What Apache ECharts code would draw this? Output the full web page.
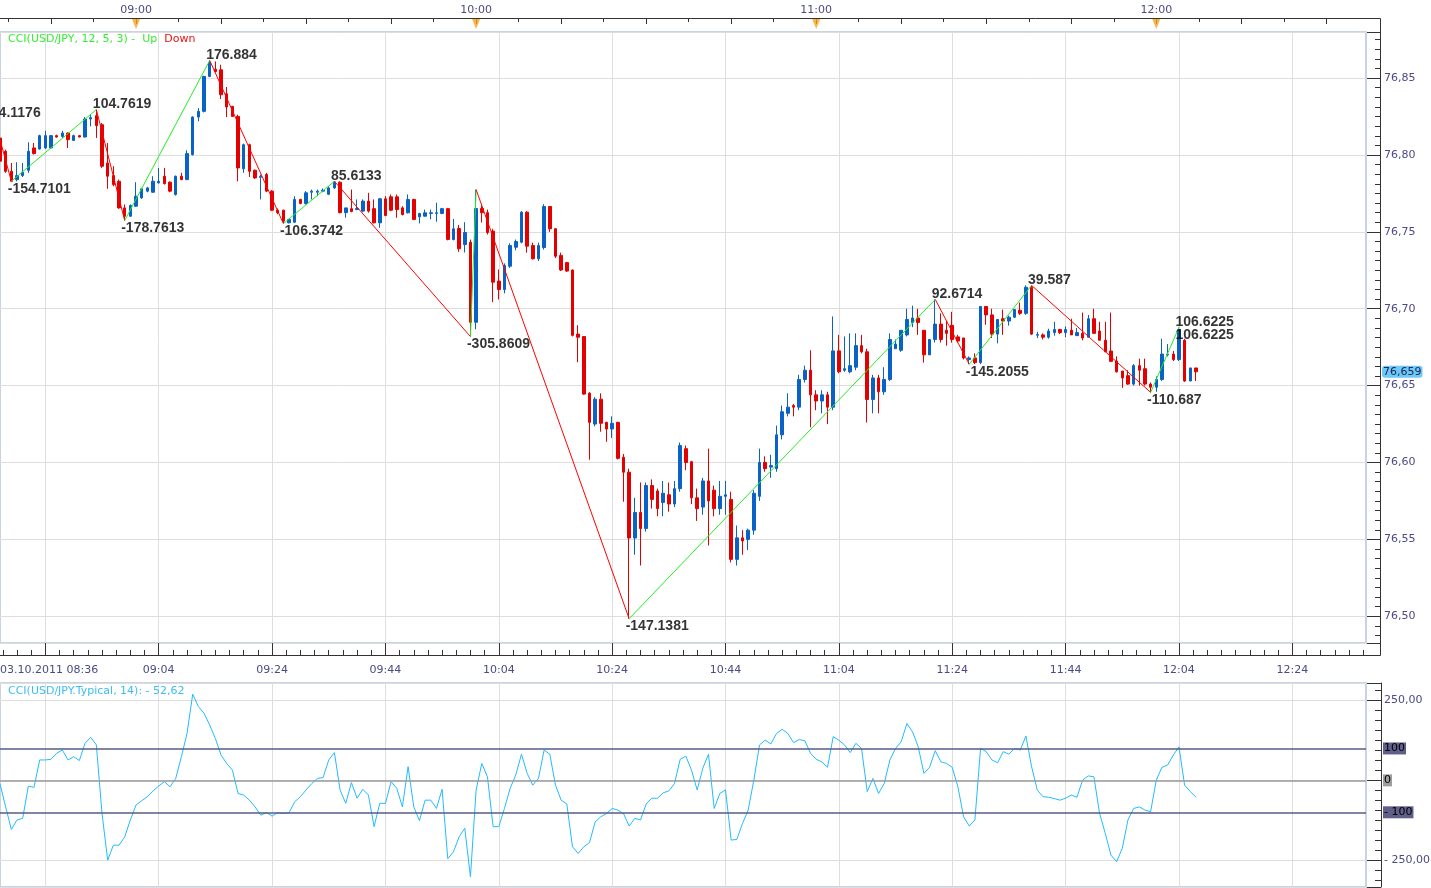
<!DOCTYPE html>
<html>
<head>
<meta charset="utf-8">
<title>USD/JPY CCI</title>
<script src="https://cdn.jsdelivr.net/npm/echarts@6/dist/echarts.min.js"></script>
<style>
    html, body { margin: 0; padding: 0; background: #fff; }
    #chart { width: 1431px; height: 888px; }
</style>
</head>
<body>
<div id="chart"></div>
<script>
// ---- data ----
const dateLabel = "03.10.2011"
const startMinute = 8 * 60 + 36 // 08:36
const minuteCount = 242 // 08:36 .. 12:37
const hourMarks = ["09:00", "10:00", "11:00", "12:00"]

// [open, close, low, high], one candle per minute from 08:36
const ohlc = [
    [76.811, 76.796, 76.795, 76.811], [76.8024, 76.7894, 76.7884, 76.8035], [76.7894, 76.7829, 76.7829, 76.7948],
    [76.784, 76.7866, 76.7829, 76.7953], [76.7866, 76.7888, 76.7857, 76.7948], [76.7901, 76.8024, 76.7884, 76.8083],
    [76.8046, 76.8009, 76.8003, 76.8078], [76.8039, 76.8126, 76.8035, 76.8132], [76.8046, 76.8126, 76.8039, 76.8158],
    [76.8046, 76.8126, 76.8039, 76.813], [76.8126, 76.8117, 76.8113, 76.8132], [76.8121, 76.8143, 76.8111, 76.8158],
    [76.8143, 76.81, 76.8046, 76.8147], [76.8095, 76.8126, 76.8091, 76.8132], [76.8126, 76.8117, 76.8115, 76.813],
    [76.8117, 76.8234, 76.8113, 76.8247], [76.8234, 76.8243, 76.8186, 76.8262], [76.8256, 76.8191, 76.8111, 76.8295],
    [76.8197, 76.7927, 76.7916, 76.8208], [76.7948, 76.7862, 76.778, 76.8078], [76.7866, 76.7808, 76.7797, 76.7927],
    [76.7829, 76.7656, 76.765, 76.784], [76.7656, 76.7602, 76.7574, 76.7678], [76.7602, 76.7672, 76.7598, 76.7678],
    [76.7667, 76.7732, 76.7663, 76.7823], [76.7721, 76.778, 76.7715, 76.7786], [76.7765, 76.7786, 76.7758, 76.7793],
    [76.7758, 76.7829, 76.7754, 76.7862], [76.7819, 76.7829, 76.7814, 76.7916], [76.7862, 76.7814, 76.7808, 76.7916],
    [76.7823, 76.7765, 76.7758, 76.7829], [76.7743, 76.7862, 76.7736, 76.7866], [76.7862, 76.784, 76.7836, 76.7884],
    [76.784, 76.8009, 76.7836, 76.803], [76.8003, 76.8247, 76.7996, 76.8251], [76.8247, 76.8284, 76.8219, 76.8305],
    [76.8284, 76.8511, 76.8277, 76.8515], [76.8511, 76.8602, 76.8506, 76.8615], [76.8558, 76.8543, 76.8537, 76.8608],
    [76.8554, 76.8392, 76.8364, 76.8587], [76.8398, 76.8312, 76.8247, 76.8442], [76.8316, 76.8251, 76.8247, 76.832],
    [76.8251, 76.7916, 76.7829, 76.8262], [76.791, 76.8067, 76.7884, 76.8074], [76.8067, 76.7894, 76.7857, 76.8074],
    [76.7901, 76.7851, 76.7845, 76.7905], [76.7855, 76.7862, 76.7711, 76.7873], [76.7873, 76.7765, 76.7758, 76.7884],
    [76.7765, 76.7641, 76.7635, 76.7771], [76.7641, 76.7625, 76.7615, 76.7652], [76.7641, 76.757, 76.7554, 76.7645],
    [76.7559, 76.7581, 76.7555, 76.7585], [76.7563, 76.7711, 76.7559, 76.7732], [76.7711, 76.7685, 76.768, 76.7715],
    [76.7685, 76.7754, 76.7678, 76.7765], [76.7758, 76.7765, 76.7711, 76.7775], [76.7758, 76.7765, 76.7732, 76.7775],
    [76.7765, 76.7771, 76.7758, 76.7782], [76.7745, 76.7786, 76.7739, 76.7797], [76.7786, 76.7825, 76.778, 76.7829],
    [76.7823, 76.7625, 76.762, 76.7829], [76.7625, 76.7656, 76.7592, 76.7656], [76.7651, 76.7633, 76.7628, 76.7775],
    [76.7645, 76.7652, 76.7641, 76.7711], [76.7635, 76.77, 76.7628, 76.7711], [76.77, 76.7635, 76.7625, 76.7754],
    [76.7651, 76.7559, 76.7555, 76.7711], [76.7559, 76.7715, 76.7527, 76.7721], [76.7715, 76.7606, 76.7602, 76.7732],
    [76.7728, 76.7641, 76.7635, 76.7743], [76.7728, 76.7645, 76.7592, 76.7743], [76.7656, 76.7613, 76.7607, 76.7667],
    [76.7624, 76.7711, 76.762, 76.7743], [76.7711, 76.7581, 76.7576, 76.7715], [76.7598, 76.7619, 76.7555, 76.7624],
    [76.7602, 76.7624, 76.76, 76.7645], [76.762, 76.7624, 76.7581, 76.7645], [76.762, 76.7624, 76.7566, 76.769],
    [76.762, 76.7651, 76.7615, 76.7656], [76.7651, 76.7451, 76.7445, 76.7656], [76.745, 76.752, 76.7445, 76.7584],
    [76.7522, 76.739, 76.737, 76.7545], [76.7418, 76.7496, 76.7366, 76.7563], [76.7433, 76.6912, 76.6819, 76.745],
    [76.6912, 76.7652, 76.6867, 76.7775], [76.7652, 76.7625, 76.7561, 76.7671], [76.7625, 76.7496, 76.7483, 76.7645],
    [76.7505, 76.7173, 76.7043, 76.752], [76.718, 76.7125, 76.706, 76.7255], [76.7125, 76.7282, 76.71, 76.7295],
    [76.7277, 76.7411, 76.7265, 76.7425], [76.74, 76.7437, 76.738, 76.745], [76.7433, 76.7628, 76.7425, 76.7635],
    [76.7628, 76.7407, 76.7365, 76.7635], [76.7411, 76.7325, 76.732, 76.743], [76.7325, 76.7411, 76.731, 76.743],
    [76.7398, 76.7665, 76.7385, 76.768], [76.7665, 76.752, 76.75, 76.7665], [76.752, 76.7342, 76.733, 76.7525],
    [76.7347, 76.7252, 76.7245, 76.7365], [76.73, 76.7245, 76.724, 76.7305], [76.7252, 76.6827, 76.682, 76.7255],
    [76.6835, 76.6815, 76.6652, 76.6893], [76.6819, 76.6445, 76.644, 76.682], [76.6451, 76.6261, 76.6018, 76.6457],
    [76.625, 76.6412, 76.6235, 76.6425], [76.6412, 76.6255, 76.62, 76.645], [76.6261, 76.6218, 76.6135, 76.6265],
    [76.6218, 76.6255, 76.616, 76.63], [76.6261, 76.6027, 76.602, 76.6265], [76.6034, 76.5937, 76.5745, 76.6055],
    [76.5937, 76.5509, 76.4984, 76.596], [76.5509, 76.5675, 76.54, 76.577], [76.5675, 76.5571, 76.533, 76.587],
    [76.5571, 76.585, 76.555, 76.587], [76.585, 76.576, 76.57, 76.589], [76.5815, 76.57, 76.565, 76.583],
    [76.574, 76.58, 76.565, 76.588], [76.579, 76.573, 76.568, 76.587], [76.573, 76.583, 76.571, 76.588],
    [76.583, 76.611, 76.581, 76.613], [76.609, 76.6, 76.595, 76.611], [76.6005, 76.577, 76.573, 76.601],
    [76.577, 76.57, 76.562, 76.583], [76.571, 76.588, 76.566, 76.59], [76.588, 76.575, 76.546, 76.609],
    [76.582, 76.57, 76.565, 76.585], [76.57, 76.578, 76.566, 76.588], [76.578, 76.579, 76.566, 76.588],
    [76.576, 76.537, 76.535, 76.581], [76.537, 76.551, 76.533, 76.559], [76.551, 76.549, 76.54, 76.556],
    [76.55, 76.556, 76.543, 76.557], [76.556, 76.58, 76.553, 76.582], [76.578, 76.6, 76.575, 76.609],
    [76.6, 76.596, 76.594, 76.604], [76.597, 76.598, 76.59, 76.605], [76.596, 76.618, 76.594, 76.624],
    [76.618, 76.633, 76.615, 76.637], [76.632, 76.636, 76.63, 76.645], [76.637, 76.636, 76.63, 76.638],
    [76.636, 76.654, 76.634, 76.657], [76.654, 76.66, 76.652, 76.663], [76.66, 76.644, 76.623, 76.673],
    [76.644, 76.64, 76.634, 76.647], [76.64, 76.644, 76.632, 76.647], [76.644, 76.636, 76.625, 76.646],
    [76.636, 76.6726, 76.634, 76.695], [76.6726, 76.659, 76.658, 76.683], [76.66, 76.661, 76.659, 76.682],
    [76.659, 76.663, 76.658, 76.684], [76.662, 76.676, 76.66, 76.684], [76.676, 76.672, 76.671, 76.683],
    [76.672, 76.641, 76.626, 76.674], [76.641, 76.655, 76.632, 76.657], [76.655, 76.646, 76.632, 76.657],
    [76.646, 76.654, 76.644, 76.662], [76.654, 76.68, 76.653, 76.684], [76.674, 76.677, 76.674, 76.68],
    [76.673, 76.686, 76.672, 76.686], [76.683, 76.693, 76.682, 76.7], [76.691, 76.694, 76.688, 76.702],
    [76.694, 76.691, 76.683, 76.7], [76.686, 76.67, 76.665, 76.686], [76.67, 76.68, 76.67, 76.68],
    [76.68, 76.69, 76.678, 76.7061], [76.69, 76.68, 76.678, 76.697], [76.686, 76.684, 76.676, 76.692],
    [76.6892, 76.68, 76.678, 76.698], [76.6817, 76.679, 76.678, 76.683], [76.681, 76.668, 76.667, 76.681],
    [76.667, 76.668, 76.6639, 76.669], [76.668, 76.665, 76.664, 76.671], [76.665, 76.7015, 76.664, 76.7015],
    [76.7015, 76.696, 76.6895, 76.7015], [76.696, 76.6835, 76.681, 76.7], [76.6835, 76.693, 76.6775, 76.693],
    [76.6935, 76.692, 76.683, 76.6995], [76.692, 76.6945, 76.689, 76.6955], [76.6945, 76.6995, 76.694, 76.6995],
    [76.699, 76.697, 76.696, 76.704], [76.697, 76.714, 76.696, 76.7152], [76.714, 76.6835, 76.683, 76.7152],
    [76.6828, 76.6832, 76.681, 76.685], [76.683, 76.6815, 76.68, 76.684], [76.6815, 76.6855, 76.6805, 76.687],
    [76.6845, 76.6865, 76.6825, 76.6915], [76.6865, 76.6845, 76.6835, 76.687], [76.6845, 76.6865, 76.6815, 76.6885],
    [76.686, 76.683, 76.683, 76.6935], [76.6825, 76.6845, 76.6825, 76.6875], [76.684, 76.681, 76.6795, 76.6975],
    [76.6815, 76.6935, 76.6815, 76.696], [76.6935, 76.684, 76.684, 76.7], [76.6855, 76.6795, 76.6795, 76.6915],
    [76.6795, 76.672, 76.672, 76.6915], [76.6725, 76.6658, 76.6655, 76.6975], [76.666, 76.659, 76.6585, 76.669],
    [76.6595, 76.655, 76.6485, 76.6595], [76.6565, 76.651, 76.6505, 76.66], [76.651, 76.663, 76.65, 76.664],
    [76.663, 76.66, 76.65, 76.6675], [76.661, 76.651, 76.65, 76.6675], [76.651, 76.649, 76.6456, 76.652],
    [76.649, 76.654, 76.646, 76.656], [76.654, 76.6705, 76.653, 76.6805], [76.67, 76.6705, 76.669, 76.677],
    [76.6705, 76.667, 76.666, 76.6725], [76.667, 76.6865, 76.666, 76.6878], [76.6795, 76.653, 76.6525, 76.6805],
    [76.653, 76.6615, 76.653, 76.6615], [76.6615, 76.659, 76.653, 76.6615],
]

// CCI(14) on typical price, one value per candle
const cci = [
    -11, -83, -154, -124, -119, -18, -22, 64, 64, 66,
    85, 95, 64, 74, 62, 116, 135, 111, -104, -250,
    -203, -203, -177, -124, -77, -64, -51, -33, -18, -4,
    -20, 6, 74, 147, 270, 231, 210, 173, 131, 79,
    53, 32, -41, -46, -62, -83, -109, -101, -112, -101,
    -104, -101, -67, -51, -30, -10, 6, 9, 64, 87,
    -30, -72, -7, -56, -28, -46, -145, -72, -72, -4,
    -25, -83, 43, -83, -126, -62, -62, -88, -28, -245,
    -224, -177, -150, -302, -30, 53, 11, -145, -145, -88,
    -25, 17, 82, 22, -15, 6, 95, 82, -15, -62,
    -74, -208, -229, -208, -195, -130, -114, -104, -88, -93,
    -104, -143, -119, -124, -74, -56, -56, -39, -33, -10,
    66, 76, 32, -30, 38, 82, -88, -41, -30, -187,
    -185, -135, -93, 1, 111, 126, 114, 147, 160, 147,
    118, 128, 124, 85, 66, 58, 41, 137, 126, 111,
    87, 116, 100, -35, 6, -41, -10, 64, 100, 121,
    178, 152, 105, 22, 41, 93, 58, 53, 41, -20,
    -114, -143, -124, 100, 90, 64, 55, 90, 82, 100,
    95, 139, 43, -30, -51, -53, -57, -62, -56, -46,
    -53, 1, 14, 11, -104, -166, -234, -255, -213, -124,
    -88, -83, -93, -98, 1, 41, 48, 79, 105, -15,
    -35, -52.62,
]

// zigzag pivots (minute index from 08:36, price, CCI label)
const pivotIdx = [-1, 2, 17, 22, 37, 50, 59, 83, 84, 111, 165, 171, 182, 203, 208]
const pivotPrice = [76.8235, 76.7829, 76.8295, 76.7574, 76.8615, 76.7554, 76.7829, 76.6819, 76.7775, 76.4984, 76.7061, 76.6639, 76.7152, 76.6456, 76.6878]
const pivotText = ["94.1176", "-154.7101", "104.7619", "-178.7613", "176.884", "-106.3742", "85.6133", "-305.8609", "", "-147.1381", "92.6714", "-145.2055", "39.587", "-110.687", "106.6225"]

const cciLevels = [100, 0, -100]
const cciLevelText = ["100", "0", "- 100"]

// ---- helpers ----
const axisFont = "'DejaVu Sans', Verdana, sans-serif"
const axisColor = "#4a4a86"
const upColor = "#0b62c6"
const downColor = "#e20000"

function hhmm(m) {
    const h = Math.floor(m / 60)
    const mm = Math.floor(m % 60)
    return String(h).padStart(2, "0") + ":" + String(mm).padStart(2, "0")
}
function comma(v, digits) {
    return v.toFixed(digits).replace(".", ",")
}
function signed(v, digits) {
    return v < 0 ? "- " + comma(-v, digits) : comma(v, digits)
}

const times = []
for (let i = 0; i < minuteCount; i++) times.push(hhmm(startMinute + i))
const halfTimes = []
for (let i = 0; i < (minuteCount - 1) * 2 + 1; i++) {
    halfTimes.push(hhmm(startMinute + i / 2) + (i % 2 ? ":30" : ":00"))
}
const lastClose = ohlc[ohlc.length - 1][1]

// zigzag legs, green when rising, red when falling
const legSeries = []
for (let k = 0; k < pivotIdx.length - 1; k++) {
    const rising = pivotPrice[k + 1] > pivotPrice[k]
    legSeries.push({
        type: "line",
        xAxisIndex: 0,
        yAxisIndex: 0,
        symbol: "none",
        silent: true,
        z: 4,
        data: [
            [pivotIdx[k], pivotPrice[k]],
            [pivotIdx[k + 1], pivotPrice[k + 1]],
        ],
        lineStyle: { color: rising ? "#22ee22" : "#ff0000", width: 1 },
    })
}

function pivotLabel(k, below) {
    return {
        value: [pivotIdx[k], pivotPrice[k]],
        label: {
            show: pivotText[k] !== "",
            formatter: pivotText[k],
            position: [-3, below ? 1 : 2],
            align: "left",
            verticalAlign: below ? "top" : "bottom",
        },
    }
}
const labelData = pivotIdx.map((x, k) => {
    const other = k < pivotIdx.length - 1 ? pivotPrice[k + 1] : pivotPrice[k - 1]
    return pivotLabel(k, pivotPrice[k] < other)
})
// the last (open) pivot is printed a second time underneath
labelData.push(pivotLabel(pivotIdx.length - 1, true))

const splitEvery20 = (i) => (i - 8) % 20 === 0
const halfTick = (i) => (i - 16) % 5 === 0
const halfMajor = (i) => (i - 16) % 40 === 0

let myChart = echarts.init(document.getElementById("chart"))
myChart.setOption({
    animation: false,
    backgroundColor: "#fff",
    title: [
        {
            left: 8,
            top: 34,
            padding: 0,
            text: "{g|CCI(USD/JPY, 12, 5, 3) -  Up}  {r|Down}",
            textStyle: {
                fontSize: 11,
                fontWeight: "normal",
                fontFamily: axisFont,
                rich: {
                    g: { color: "#33ee33", fontSize: 11, fontFamily: axisFont },
                    r: { color: "#ee1111", fontSize: 11, fontFamily: axisFont },
                },
            },
        },
        {
            left: 8,
            top: 686,
            padding: 0,
            text: "CCI(USD/JPY.Typical, 14): " + signed(cci[cci.length - 1], 2),
            textStyle: { color: "#3dbdf2", fontSize: 11, fontWeight: "normal", fontFamily: axisFont },
        },
    ],
    graphic: [
        {
            type: "polyline",
            silent: true,
            z: 10,
            shape: { points: [[0, 18.5], [1380.5, 18.5], [1380.5, 655.5], [0, 655.5]] },
            style: { fill: null, stroke: "#333", lineWidth: 1 },
        },
    ],
    grid: [
        { left: 0, top: 32, width: 1366, height: 611, outerBoundsMode: "none", containLabel: false, show: true, borderColor: "#c9d3e1", borderWidth: 2 },
        { left: 0, top: 683, width: 1366, height: 204, outerBoundsMode: "none", containLabel: false, show: true, borderColor: "#c9d3e1", borderWidth: 2 },
        { left: 0, top: 18, width: 1366, height: 12, outerBoundsMode: "none", containLabel: false },
    ],
    xAxis: [
        // 0: main data axis
        {
            type: "category",
            gridIndex: 0,
            data: times,
            boundaryGap: false,
            axisLine: { show: false },
            axisTick: { show: false },
            axisLabel: { show: false },
            splitLine: { show: true, interval: splitEvery20, lineStyle: { color: "#dedede" } },
        },
        // 1: top hour axis, short ticks every 7.5 min
        {
            type: "category",
            gridIndex: 0,
            position: "top",
            offset: 14,
            data: halfTimes,
            boundaryGap: false,
            axisLine: { show: false },
            axisTick: { inside: true, length: 4, interval: (i) => (i - 3) % 15 === 0, lineStyle: { color: "#333" } },
            axisLabel: {
                interval: (i, v) => v.slice(3) === "00:00",
                formatter: (v) => v.slice(0, 5),
                margin: 2,
                color: axisColor,
                fontSize: 11,
                fontFamily: axisFont,
            },
            splitLine: { show: false },
        },
        // 2: top long ticks every 15 min
        {
            type: "category",
            gridIndex: 0,
            position: "top",
            offset: 14,
            data: halfTimes,
            boundaryGap: false,
            axisLine: { show: false },
            axisTick: { inside: true, length: 6, interval: (i) => (i - 18) % 30 === 0, lineStyle: { color: "#333" } },
            axisLabel: { show: false },
            splitLine: { show: false },
        },
        // 3: bottom time axis, minor ticks and labels
        {
            type: "category",
            gridIndex: 0,
            position: "bottom",
            offset: 12,
            data: halfTimes,
            boundaryGap: false,
            axisLine: { show: false },
            axisTick: { inside: true, length: 5, interval: halfTick, lineStyle: { color: "#333" } },
            axisLabel: {
                interval: (i) => i === 0 || (halfMajor(i) && i > 16),
                formatter: (v, i) => (i === 0 ? dateLabel + " " + v.slice(0, 5) : v.slice(0, 5)),
                alignMinLabel: "left",
                margin: 10,
                color: axisColor,
                fontSize: 11,
                fontFamily: axisFont,
            },
            splitLine: { show: false },
        },
        // 4: bottom long ticks
        {
            type: "category",
            gridIndex: 0,
            position: "bottom",
            offset: 12,
            data: halfTimes,
            boundaryGap: false,
            axisLine: { show: false },
            axisTick: { inside: true, length: 12, interval: halfMajor, lineStyle: { color: "#333" } },
            axisLabel: { show: false },
            splitLine: { show: false },
        },
        // 5: CCI panel axis
        {
            type: "category",
            gridIndex: 1,
            data: times,
            boundaryGap: false,
            axisLine: { show: false },
            axisTick: { show: false },
            axisLabel: { show: false },
            splitLine: { show: true, interval: splitEvery20, lineStyle: { color: "#dedede" } },
        },
        // 6: hour markers strip
        {
            type: "category",
            gridIndex: 2,
            data: times,
            boundaryGap: false,
            show: false,
        },
    ],
    yAxis: [
        {
            type: "value",
            gridIndex: 0,
            position: "right",
            offset: 15,
            min: 76.4826,
            max: 76.88,
            splitNumber: 8,
            minInterval: 0.05,
            maxInterval: 0.05,
            axisLine: { show: false },
            axisTick: { show: true, inside: true, length: 14, lineStyle: { color: "#333" } },
            minorTick: { show: true, splitNumber: 8, length: 6, lineStyle: { color: "#333" } },
            axisLabel: {
                margin: 3,
                showMinLabel: false,
                showMaxLabel: false,
                formatter: (v) => comma(v, 2),
                color: axisColor,
                fontSize: 11,
                fontFamily: axisFont,
            },
            splitLine: { show: true, lineStyle: { color: "#dedede" } },
            axisPointer: {
                show: true,
                type: "line",
                value: lastClose,
                status: "show",
                snap: false,
                triggerTooltip: false,
                lineStyle: { color: "transparent", width: 0 },
                label: {
                    show: true,
                    formatter: (p) => comma(p.value, 3),
                    backgroundColor: "#6ccbf6",
                    color: "#24245a",
                    padding: [1, 1, 0, 1],
                    margin: 1,
                    fontSize: 11,
                    fontFamily: axisFont,
                },
            },
        },
        {
            type: "value",
            gridIndex: 1,
            position: "right",
            offset: 15,
            min: -334,
            max: 305,
            splitNumber: 3,
            minInterval: 250,
            maxInterval: 250,
            axisLine: { show: true, lineStyle: { color: "#333" } },
            axisTick: { show: true, inside: true, length: 14, lineStyle: { color: "#333" } },
            minorTick: { show: true, splitNumber: 8, length: 6, lineStyle: { color: "#333" } },
            axisLabel: {
                margin: 3,
                showMinLabel: false,
                showMaxLabel: false,
                formatter: (v) => (v === 0 ? "" : signed(v, 2)),
                color: axisColor,
                fontSize: 11,
                fontFamily: axisFont,
            },
            splitLine: { show: true, lineStyle: { color: "#dedede" } },
        },
        { type: "value", gridIndex: 2, min: -1, max: 1, show: false },
    ],
    series: [
        {
            name: "USD/JPY",
            type: "candlestick",
            xAxisIndex: 0,
            yAxisIndex: 0,
            barWidth: 3,
            z: 3,
            data: ohlc,
            itemStyle: {
                color: upColor,
                color0: downColor,
                borderColor: upColor,
                borderColor0: downColor,
                borderWidth: 1,
            },
        },
        ...legSeries,
        {
            type: "scatter",
            xAxisIndex: 0,
            yAxisIndex: 0,
            symbolSize: 1,
            clip: false,
            silent: true,
            z: 6,
            itemStyle: { color: "rgba(0,0,0,0)" },
            label: {
                color: "#000",
                fontFamily: "'Liberation Sans', Arial, sans-serif",
                fontWeight: "bold",
                fontSize: 14,
            },
            data: labelData,
        },
        {
            name: "CCI",
            type: "line",
            xAxisIndex: 5,
            yAxisIndex: 1,
            symbol: "none",
            z: 3,
            data: cci,
            lineStyle: { color: "#22bbff", width: 1 },
            markLine: {
                silent: true,
                symbol: "none",
                animation: false,
                data: cciLevels.map((v, k) => ({
                    yAxis: v,
                    lineStyle: { color: v === 0 ? "#9a9a9a" : "#5a5a85", width: 1.5, type: "solid" },
                    label: {
                        formatter: cciLevelText[k],
                        position: "end",
                        distance: 17,
                        backgroundColor: v === 0 ? "#9e9e9e" : "#5f5f8a",
                        color: "#000",
                        padding: [1, 1, 0, 1],
                        fontSize: 11,
                        fontFamily: axisFont,
                    },
                })),
            },
        },
        {
            type: "scatter",
            xAxisIndex: 6,
            yAxisIndex: 2,
            symbol: "path://M0,0L8,0L4,10Z",
            symbolSize: [8, 10],
            silent: true,
            itemStyle: { color: "#f7a21b" },
            data: hourMarks.map((t) => [t, 0]),
        },
    ],
})
window.addEventListener("resize", function () {
    myChart.resize()
})
</script>
</body>
</html>
